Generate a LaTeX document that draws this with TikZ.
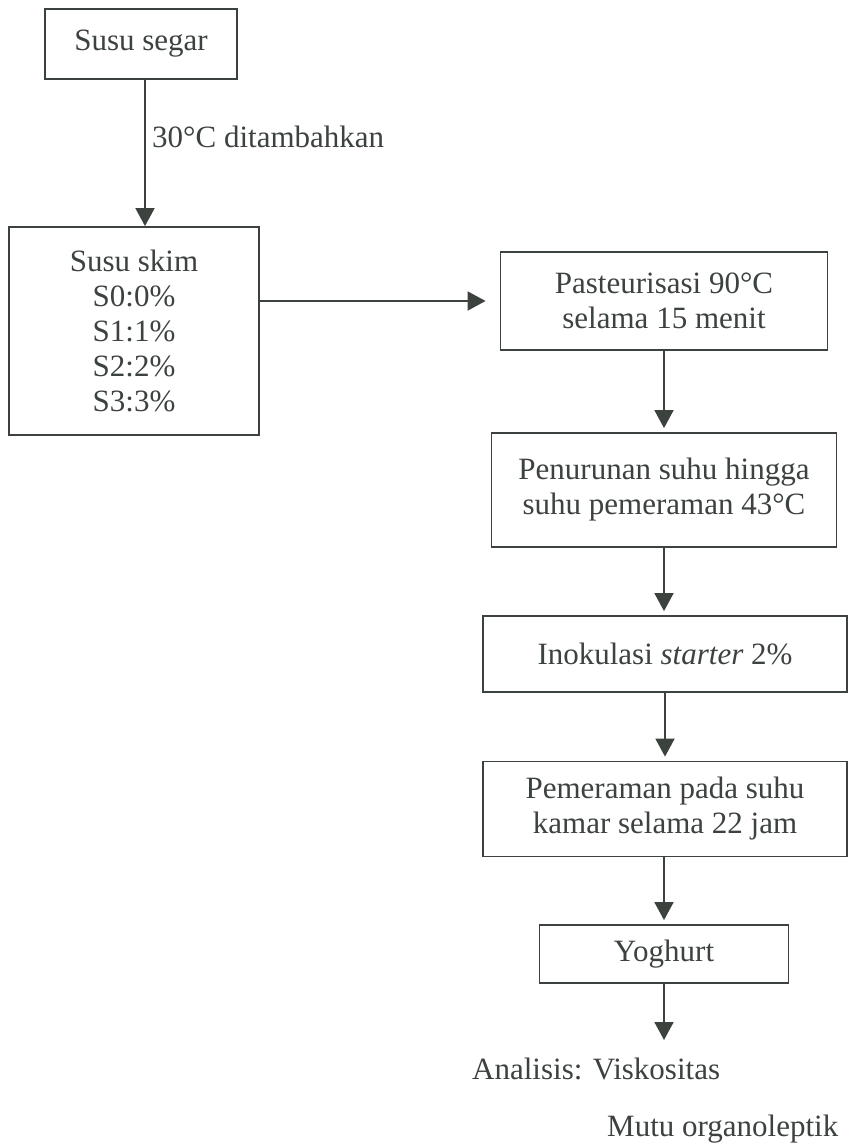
\documentclass[tikz,border=0pt]{standalone}
\usepackage{fontspec}
\setmainfont{Liberation Serif}
\usetikzlibrary{arrows.meta}
\definecolor{ink}{HTML}{3C423E}
\tikzset{
  box/.style={draw=ink, line width=1.8pt, text=ink, align=center, inner sep=0pt,
    font=\fontsize{31}{35}\selectfont},
  lbl/.style={text=ink, inner sep=0pt, font=\fontsize{31}{35}\selectfont},
  arr/.style={draw=ink, line width=1.8pt, -{Triangle[width=19pt,length=18pt]}, shorten >=4pt},
}
\begin{document}
\begin{tikzpicture}[x=1pt,y=-1pt]
\useasboundingbox (0,0) rectangle (855,1143);
\fill[white] (0,0) rectangle (855,1143);
\node[box, minimum width=192pt, minimum height=70pt] (b1) at (141,44) {Susu segar};
\node[box, minimum width=250pt, minimum height=208pt] (b2) at (134,331)
  {Susu skim\\S0:0\%\\S1:1\%\\S2:2\%\\S3:3\%};
\node[box, minimum width=327pt, minimum height=98pt] (b3) at (664,301)
  {Pasteurisasi 90°C\\selama 15 menit};
\node[box, minimum width=345pt, minimum height=114pt] (b4) at (664,490)
  {Penurunan suhu hingga\\suhu pemeraman 43°C};
\node[box, minimum width=364pt, minimum height=76pt] (b5) at (665,654)
  {Inokulasi \textit{starter} 2\%};
\node[box, minimum width=364pt, minimum height=95pt] (b6) at (665,809)
  {Pemeraman pada suhu\\kamar selama 22 jam};
\node[box, minimum width=249pt, minimum height=58pt] (b7) at (664,954) {Yoghurt};
\node[lbl, anchor=west] (l1) at (152,137) {30°C ditambahkan};
\node[lbl, anchor=base west] (t1) at (472,1079) {Analisis: Viskositas};
\node[lbl, anchor=base west] (t2) at (607,1136) {Mutu organoleptik};
\coordinate (end) at (664,1040);
\draw[arr, shorten >=0pt] ([xshift=4pt]b1.south) -- ([xshift=11pt]b2.north);
\draw[arr, shorten >=14pt] (b2.east |- b3.west) -- (b3.west);
\draw[arr] (b3.south) -- (b4.north);
\draw[arr] (b4.south) -- (b5.north -| b4.south);
\draw[arr] (b5.south) -- (b6.north);
\draw[arr] (b6.south -| b7.north) -- (b7.north);
\draw[arr, shorten >=0pt] (b7.south) -- (end);
\end{tikzpicture}
\end{document}
